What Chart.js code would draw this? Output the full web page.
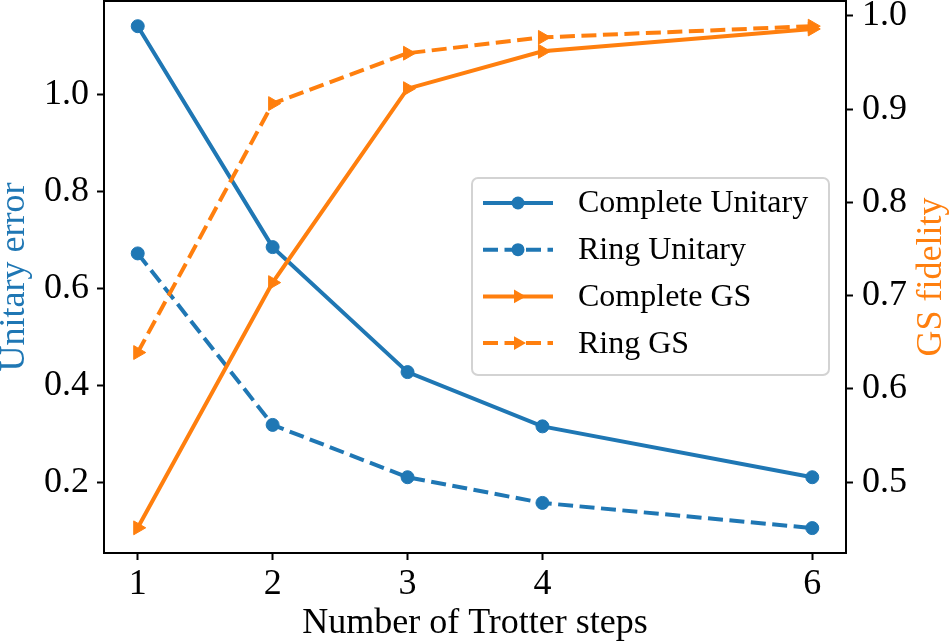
<!DOCTYPE html>
<html lang="en">
<head>
    <meta charset="UTF-8">
    <title>Unitary error and GS fidelity vs Trotter steps</title>
    <script src="https://cdn.jsdelivr.net/npm/chart.js"></script>
    <style>
        body {
            margin: 0;
            padding: 0;
            background: white;
        }
        #wrap {
            width: 950px;
            height: 643px;
        }
    </style>
</head>
<body>
    <div id="wrap">
        <canvas id="trotterChart" width="950" height="643"></canvas>
    </div>

    <script>
        // values
        const trotterSteps = [1, 2, 3, 4, 6];
        const completeUnitary = [1.141, 0.685, 0.427, 0.315, 0.210];
        const ringUnitary = [0.672, 0.318, 0.210, 0.157, 0.105];
        const completeGS = [0.451, 0.714, 0.922, 0.962, 0.986];
        const ringGS = [0.639, 0.906, 0.960, 0.977, 0.989];

        const xTicks = [1, 2, 3, 4, 6];
        const errorTicks = [0.2, 0.4, 0.6, 0.8, 1.0];
        const fidelityTicks = [0.5, 0.6, 0.7, 0.8, 0.9, 1.0];

        const BLUE = '#1f77b4';
        const ORANGE = '#ff7f0e';
        const SERIF = "'Liberation Serif', 'Times New Roman', serif";

        function toPoints(values) {
            return trotterSteps.map((x, i) => ({ x: x, y: values[i] }));
        }

        function makeSeries(label, values, color, dashed, marker, axis, order) {
            return {
                label: label,
                data: toPoints(values),
                yAxisID: axis,
                order: order,
                borderColor: color,
                backgroundColor: color,
                borderWidth: 4,
                borderDash: dashed ? [15, 6.5] : [],
                pointStyle: marker === 'circle' ? 'circle' : 'triangle',
                pointRotation: marker === 'circle' ? 0 : 90,
                pointRadius: marker === 'circle' ? 6.5 : 8,
                pointBackgroundColor: color,
                pointBorderColor: color,
                pointBorderWidth: 1,
                tension: 0,
                fill: false
            };
        }

        function fixedTicks(values) {
            return scale => { scale.ticks = values.map(v => ({ value: v })); };
        }

        const tickFont = { family: SERIF, size: 36 };

        function axisGrid() {
            return {
                drawOnChartArea: false,
                drawTicks: true,
                tickLength: 7,
                tickWidth: 2,
                color: '#000'
            };
        }

        // top spine, axis titles and the legend box
        const framePlugin = {
            id: 'frame',
            afterDraw(chart) {
                const ctx = chart.ctx;
                const area = chart.chartArea;
                ctx.save();
                ctx.strokeStyle = '#000';
                ctx.lineWidth = 2;
                ctx.beginPath();
                ctx.moveTo(area.left - 1, area.top);
                ctx.lineTo(area.right + 1, area.top);
                ctx.stroke();

                const midY = (area.top + area.bottom) / 2;
                ctx.font = '36px ' + SERIF;
                ctx.textAlign = 'center';
                ctx.textBaseline = 'alphabetic';
                ctx.fillStyle = '#000';
                ctx.fillText('Number of Trotter steps', (area.left + area.right) / 2, 633);

                ctx.save();
                ctx.translate(24, midY);
                ctx.rotate(-Math.PI / 2);
                ctx.fillStyle = BLUE;
                ctx.fillText('Unitary error', 0, 0);
                ctx.restore();

                ctx.save();
                ctx.translate(941, midY);
                ctx.rotate(-Math.PI / 2);
                ctx.fillStyle = ORANGE;
                ctx.fillText('GS fidelity', 0, 0);
                ctx.restore();

                // legend
                const box = { x: 472, y: 178, w: 357, h: 197 };
                ctx.beginPath();
                ctx.roundRect(box.x, box.y, box.w, box.h, 6);
                ctx.fillStyle = 'rgba(255,255,255,0.8)';
                ctx.fill();
                ctx.strokeStyle = '#d3d3d3';
                ctx.lineWidth = 2;
                ctx.stroke();

                ctx.font = '32px ' + SERIF;
                ctx.textAlign = 'left';
                ctx.textBaseline = 'middle';
                chart.data.datasets.forEach((ds, i) => {
                    const y = 203 + i * 46.7;
                    ctx.strokeStyle = ds.borderColor;
                    ctx.lineWidth = ds.borderWidth;
                    ctx.setLineDash(ds.borderDash);
                    ctx.beginPath();
                    ctx.moveTo(483, y);
                    ctx.lineTo(553, y);
                    ctx.stroke();
                    ctx.setLineDash([]);
                    ctx.fillStyle = ds.pointBackgroundColor;
                    ctx.beginPath();
                    const cx = 518;
                    const r = ds.pointRadius;
                    if (ds.pointStyle === 'circle') {
                        ctx.arc(cx, y, r, 0, Math.PI * 2);
                    } else {
                        ctx.moveTo(cx + r, y);
                        ctx.lineTo(cx - r / 2, y - r * Math.sqrt(3) / 2);
                        ctx.lineTo(cx - r / 2, y + r * Math.sqrt(3) / 2);
                        ctx.closePath();
                    }
                    ctx.fill();
                    ctx.fillStyle = '#000';
                    ctx.fillText(ds.label, 578, y + 1);
                });
                ctx.restore();
            }
        };

        const ctx = document.getElementById('trotterChart').getContext('2d');
        new Chart(ctx, {
            type: 'line',
            data: {
                datasets: [
                    makeSeries('Complete Unitary', completeUnitary, BLUE, false, 'circle', 'yError', 2),
                    makeSeries('Ring Unitary', ringUnitary, BLUE, true, 'circle', 'yError', 2),
                    makeSeries('Complete GS', completeGS, ORANGE, false, 'triangle', 'yFidelity', 1),
                    makeSeries('Ring GS', ringGS, ORANGE, true, 'triangle', 'yFidelity', 1)
                ]
            },
            options: {
                responsive: false,
                animation: false,
                events: [],
                layout: { autoPadding: false, padding: { top: 1, left: 0, right: 0, bottom: 0 } },
                plugins: {
                    legend: { display: false },
                    tooltip: { enabled: false }
                },
                scales: {
                    x: {
                        type: 'linear',
                        min: 0.75,
                        max: 6.25,
                        afterBuildTicks: fixedTicks(xTicks),
                        afterFit: s => { s.height = 90; s.paddingLeft = 0; s.paddingRight = 0; },
                        ticks: {
                            font: tickFont,
                            color: '#000',
                            padding: 3,
                            maxRotation: 0,
                            autoSkip: false,
                            callback: v => String(v)
                        },
                        grid: axisGrid(),
                        border: { display: true, color: '#000', width: 2 }
                    },
                    yError: {
                        type: 'linear',
                        position: 'left',
                        min: 0.0536,
                        max: 1.193,
                        afterBuildTicks: fixedTicks(errorTicks),
                        afterFit: s => { s.width = 104; s.paddingTop = 0; s.paddingBottom = 0; },
                        ticks: {
                            font: tickFont,
                            color: '#000',
                            padding: 8,
                            autoSkip: false,
                            callback: v => v.toFixed(1)
                        },
                        grid: axisGrid(),
                        border: { display: true, color: '#000', width: 2 }
                    },
                    yFidelity: {
                        type: 'linear',
                        position: 'right',
                        min: 0.424,
                        max: 1.016,
                        afterBuildTicks: fixedTicks(fidelityTicks),
                        afterFit: s => { s.width = 104; s.paddingTop = 0; s.paddingBottom = 0; },
                        ticks: {
                            font: tickFont,
                            color: '#000',
                            padding: 9,
                            autoSkip: false,
                            callback: v => v.toFixed(1)
                        },
                        grid: axisGrid(),
                        border: { display: true, color: '#000', width: 2 }
                    }
                }
            },
            plugins: [framePlugin]
        });
    </script>
</body>
</html>
